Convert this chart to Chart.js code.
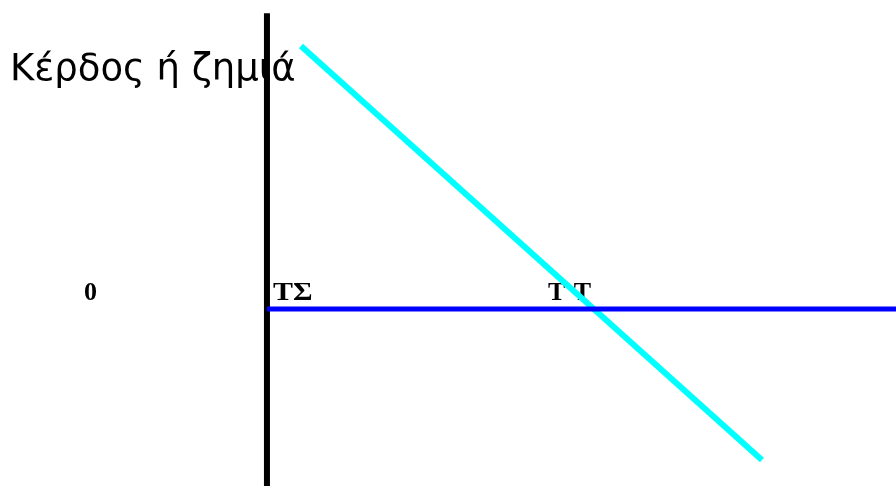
<!DOCTYPE html>
<html>
<head>
<meta charset="utf-8">
<script src="https://cdn.jsdelivr.net/npm/chart.js@4"></script>
<style>
    html, body { margin: 0; padding: 0; background: #fff; }
    #wrap { width: 896px; height: 486px; }
</style>
</head>
<body>
<div id="wrap"><canvas id="myChart" width="896" height="486"></canvas></div>
<script>
// vertical axis (profit / loss)
const axisX = [0, 0];
const axisY = [112.5, -67.3];
// zero profit line
const zeroX = [0, 192.4];
const zeroY = [0, 0];
// profit line
const profitX = [10.4, 151.4];
const profitY = [100, -57.4];

const titleText = 'Κέρδος ή ζημιά';
const zeroLabel = '0';
const startLabel = 'ΤΣ';
const breakEvenLabel = 'Τ Τ';
const breakEvenQty = 100;

function toPoints(xs, ys)
{
    return xs.map((x, i) => ({ x: x, y: ys[i] }));
}

function drawStretched(ctx, text, x, y, sx)
{
    ctx.save();
    ctx.translate(x, y);
    ctx.scale(sx, 1);
    ctx.fillText(text, 0, 0);
    ctx.restore();
}

const labelPlugin = {
    id: 'labels',
    beforeDatasetsDraw(chart) {
        const ctx = chart.ctx;
        const sx = chart.scales.x;
        const sy = chart.scales.y;
        const base = sy.getPixelForValue(0) - 9;
        ctx.save();
        ctx.fillStyle = '#000';
        ctx.textBaseline = 'alphabetic';
        ctx.textAlign = 'left';
        ctx.font = 'bold 26px "Liberation Serif"';
        ctx.fillText(zeroLabel, 84, base);
        drawStretched(ctx, startLabel, sx.getPixelForValue(0) + 6, base, 1.15);
        ctx.letterSpacing = '1px';
        ctx.fillText(breakEvenLabel, sx.getPixelForValue(breakEvenQty) - 46, base);
        ctx.letterSpacing = '0px';
        ctx.font = '37px "DejaVu Sans"';
        ctx.fillText(titleText, 10, 80);
        ctx.restore();
    }
};

const chartData = {
    datasets: [
        {
            data: toPoints(zeroX, zeroY),
            borderColor: '#0000ff',
            borderWidth: 5
        },
        {
            data: toPoints(axisX, axisY),
            borderColor: '#000000',
            borderWidth: 6
        },
        {
            data: toPoints(profitX, profitY),
            borderColor: '#00ffff',
            borderWidth: 6
        }
    ]
};

const config = {
    type: 'scatter',
    data: chartData,
    options: {
        responsive: false,
        animation: false,
        showLine: true,
        layout: { padding: 0 },
        elements: {
            point: { radius: 0, hoverRadius: 0 },
            line: { borderCapStyle: 'butt', tension: 0 }
        },
        plugins: {
            legend: { display: false },
            tooltip: { enabled: false }
        },
        scales: {
            x: { type: 'linear', display: false, min: -81.65, max: 192.4 },
            y: { type: 'linear', display: false, min: -67.3, max: 117.5 }
        }
    },
    plugins: [labelPlugin]
};

const ctx = document.getElementById('myChart').getContext('2d');

if (ctx) {
    new Chart(ctx, config);
}
</script>
</body>
</html>
